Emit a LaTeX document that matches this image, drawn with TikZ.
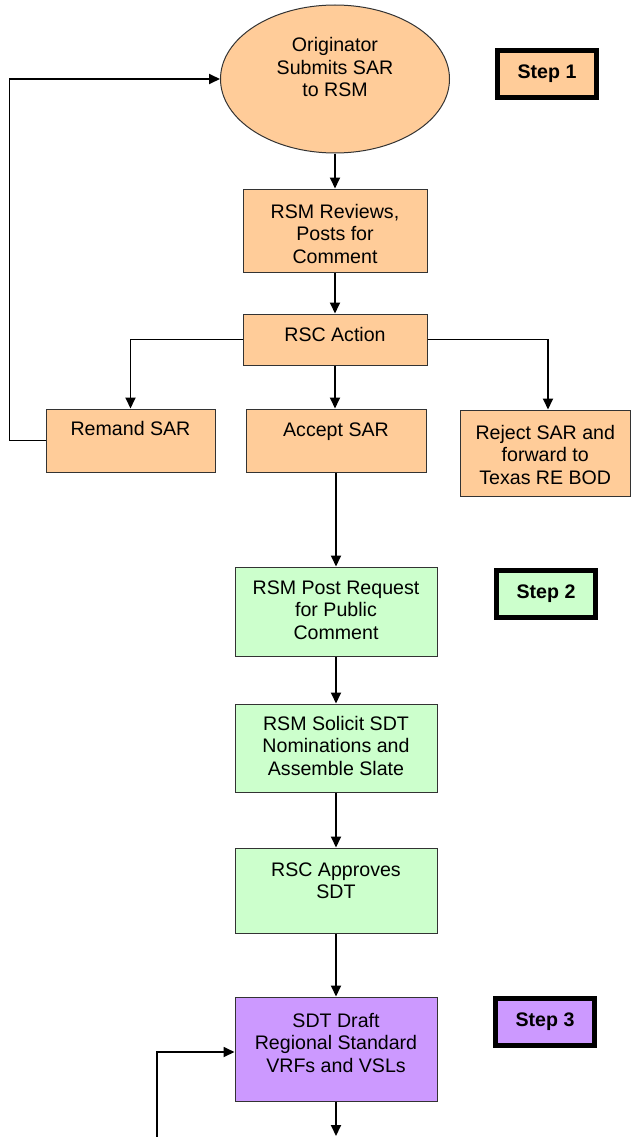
\documentclass[tikz,border=0pt]{standalone}
\usepackage{fontspec}
\setmainfont{Liberation Sans}
\usetikzlibrary{arrows.meta,shapes.geometric}
\definecolor{orng}{HTML}{FFCC99}
\definecolor{grn}{HTML}{CCFFCC}
\definecolor{prp}{HTML}{CC99FF}
\newcommand{\ml}[1]{\begin{tabular}[t]{@{}c@{}}#1\end{tabular}}
\begin{document}
\begin{tikzpicture}[x=1pt,y=-1pt,
  txt/.style={font=\fontsize{19.6}{22.5}\selectfont, inner xsep=0pt, inner ysep=0pt},
  box/.style={txt, draw=black!80, line width=1pt, rectangle},
  stepbox/.style={draw=black, line width=5pt, font=\fontsize{19.6}{22.5}\selectfont\bfseries,
    minimum width=99pt, minimum height=47pt, inner sep=0pt},
  arr/.style={line width=1.8pt, -{Triangle[length=11pt,width=10pt]}},
]
\useasboundingbox (0,0) rectangle (631,1137);

\node[box, ellipse, fill=orng, minimum width=229pt, minimum height=148pt,
  text height=20pt, text depth=74pt] (orig) at (335,79) {\ml{Originator\\Submits SAR\\to RSM}};
\node[stepbox, fill=orng] (s1) at (547,74) {Step 1};

\node[box, fill=orng, minimum width=184pt, text height=29pt, text depth=54pt] (rev) at (335,230.5) {\ml{RSM Reviews,\\Posts for\\Comment}};
\node[box, fill=orng, minimum width=184pt, text height=27pt, text depth=24pt] (act) at (335,339.5) {\ml{RSC Action}};
\node[box, fill=orng, minimum width=169pt, text height=26pt, text depth=37pt] (rem) at (130.5,440.5) {\ml{Remand SAR}};
\node[box, fill=orng, minimum width=180pt, text height=27pt, text depth=36pt] (acc) at (336,440.5) {\ml{Accept SAR}};
\node[box, fill=orng, minimum width=170.5pt, text height=29pt, text depth=57pt] (rej) at (545.25,453) {\ml{Reject SAR and\\forward to\\Texas RE BOD}};

\node[box, fill=grn, minimum width=202pt, text height=27pt, text depth=62pt] (post) at (336,611.5) {\ml{RSM Post Request\\for Public\\Comment}};
\node[stepbox, fill=grn] (s2) at (546,593.5) {Step 2};
\node[box, fill=grn, minimum width=202pt, text height=26pt, text depth=62pt] (sol) at (336,748) {\ml{RSM Solicit SDT\\Nominations and\\Assemble Slate}};
\node[box, fill=grn, minimum width=202pt, text height=28pt, text depth=57pt] (appr) at (336,890.5) {\ml{RSC Approves\\SDT}};

\node[box, fill=prp, minimum width=202pt, text height=30pt, text depth=74pt] (draft) at (336,1049) {\ml{SDT Draft\\Regional Standard\\VRFs and VSLs}};
\node[stepbox, fill=prp] (s3) at (545,1021.5) {Step 3};

\draw[arr] (orig.south) -- (rev.north);
\draw[arr] (rev.south) -- (act.north);
\draw[arr] (act.west) -| (rem.north);
\draw[arr] (act.east) -| ([xshift=2.75pt]rej.north);
\draw[arr] (act.south) -- (act.south |- acc.north);
\draw[arr] (rem.west) -- ++(-36,0) |- (orig.west);
\draw[arr] (acc.south) -- (post.north);
\draw[arr] (post.south) -- (sol.north);
\draw[arr] (sol.south) -- (appr.north);
\draw[arr] (appr.south) -- (draft.north);
\coordinate (lp) at (157,1140);
\draw[arr] (lp) |- ([yshift=-3pt]draft.west);
\coordinate (out) at (336,1136);
\draw[arr] (draft.south) -- (out);
\end{tikzpicture}
\end{document}
